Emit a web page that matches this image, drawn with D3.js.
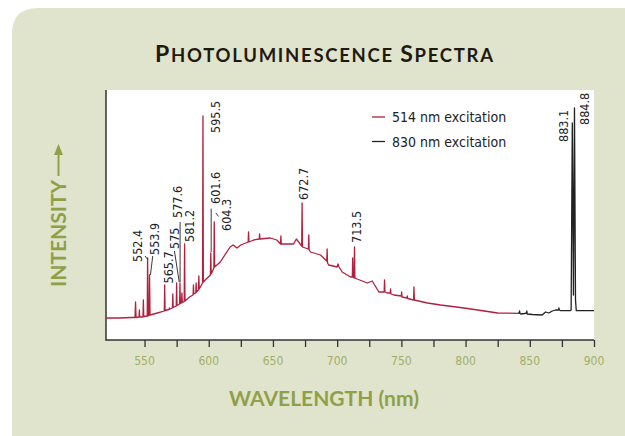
<!DOCTYPE html>
<html lang="en">
<head>
<meta charset="UTF-8">
<script src="https://d3js.org/d3.v7.min.js"></script>
<title>Photoluminescence Spectra</title>
<style>
  html, body { margin: 0; padding: 0; background: #fff; }
  svg { display: block; }
</style>
</head>
<body>
<div id="chart"></div>
<script>
// --- data (wavelength nm, relative intensity) ---
const series514 = [
  [520,22],[530,22],[540,22.5],[542.6,22.5],
  [543.0,38],[543.4,22.5],
  [545.7,23],[546.0,30],[546.3,23],
  [548.8,23],[549.1,40],[549.4,23.5],
  [552.1,24],[552.4,82],[552.8,24],
  [553.6,24.5],[553.9,65],[554.3,25],
  [560,27],
  [565.4,29],[565.7,55],[566.0,29.5],
  [569.1,30.5],[569.4,32],[569.7,31],
  [571.7,32],[572.0,46],[572.3,32.5],
  [574.7,34],[575.0,57],[575.3,34.5],
  [577.3,36],[577.6,57],[577.9,36.5],
  [578.8,37],[579.1,47],[579.4,37.5],
  [580.9,38.5],[581.2,96],[581.5,39],
  [585,43],
  [587.8,45],[588.1,55],[588.4,46],
  [589.9,47],[590.2,57],[590.5,48],
  [592.0,50],[592.3,64],[592.6,51],
  [595.2,57],[595.5,224],[595.8,58],
  [598,61],
  [601.3,65],[601.6,87],[601.9,66],
  [604.0,72],[604.3,118],[604.6,73],
  [609,78],[616.6,93],[619,95],[622,92],[625,95],
  [630.7,98],[631.0,108],[631.3,98],
  [635,100],
  [639.3,101],[639.6,106],[639.9,101],
  [648,102],[653,100],
  [655.9,96],[656.2,104],[656.5,96],
  [666,96],[668.2,101],[670.6,97],
  [672.4,94],[672.7,137],[673.0,93],
  [677.6,91],[677.9,105],[678.2,90],
  [679.2,88],[687,85],
  [691.9,79],[692.2,91],[692.5,77],
  [693.4,75],[700,73],[700.6,76],[701.5,73],[703.9,68],
  [710.4,63],
  [711.8,63],[712.1,82],[712.4,63],
  [713.2,62],[713.5,93],[713.8,62],
  [715.6,61],[723.4,57],[727.3,59],[732.5,48],
  [736.6,48],[736.9,60],[737.2,48],
  [739,47],
  [741.3,47],[741.6,51],[741.9,46],
  [744.2,45],
  [749.9,44],[750.2,48],[750.5,43],
  [754.3,42],[754.6,44],[754.9,41.5],
  [759.5,40],[759.8,53],[760.1,40],
  [770.3,37],[780.6,35],[798.8,32],[812,29.5],[824.9,27],[840.4,26.7]
];

const series830 = [
  [840.4,26.7],[841.7,27],[842,29],[842.4,26.5],[843,26],[846,26.5],
  [847.4,27],[847.7,29],[848,26],[852,25.5],[859.7,25],[862.3,28],
  [864.9,27],[867.5,29],[870.1,30],[872.4,30],[872.7,32],[873,30],
  [874,29.3],[881.3,29.3],[882.2,30],[883.1,217],[884.0,45],
  [884.8,232],[885.6,40],[886.2,29.3],[900,29.3]
];

const seriesNames = ["514 nm excitation", "830 nm excitation"];
const xTicks = [550, 575, 600, 625, 650, 675, 700, 725, 750, 775, 800, 825, 850, 875, 900];
const xTickLabels = [550, 600, 650, 700, 750, 800, 850, 900];

// peak annotations: label, text centre (nm), text start (intensity)
const peakText  = ["552.4","553.9","565.7","575","577.6","581.2","595.5","601.6","604.3","672.7","713.5","883.1","884.8"];
const peakTextX = [544.7, 558.2, 568.6, 573.3, 575.9, 585.5, 605.0, 605.0, 614.2, 674.0, 714.8, 876.7, 892.9];
const peakTextY = [78, 85, 56.5, 91, 122, 98, 207, 136, 109, 140, 97, 198, 215];
// leader lines [nm1, int1, nm2, int2]
const leaders = [
  [550.4, 84, 552.5, 80.5],
  [556.4, 84, 554.6, 65],
  [573.3, 89, 577.0, 58],
  [577.7, 118, 577.7, 58],
  [601.9, 131.5, 601.9, 88],
  [605.6, 127, 607.6, 123.5]
];

// --- layout ---
const W = 625, H = 436;
const plot = { left: 106, right: 594, top: 90, bottom: 340 };
const green = "#8fa048", tickGreen = "#a2ae68";
const red = "#b0203f", dark = "#222";

const svg = d3.select("#chart").append("svg")
  .attr("width", W).attr("height", H);

// background panel with rounded top-left corner
svg.append("path")
  .attr("d", `M12,${H} L12,34 Q12,8 38,8 L${W},8 L${W},${H} Z`)
  .attr("fill", "#e1e4cc");

svg.append("rect")
  .attr("x", plot.left).attr("y", plot.top)
  .attr("width", plot.right - plot.left).attr("height", plot.bottom - plot.top)
  .attr("fill", "#fff");

const x = d3.scaleLinear().domain([520, 900]).range([plot.left, plot.right]);
const y = d3.scaleLinear().domain([0, 250]).range([plot.bottom, plot.top]);

// title (small caps)
const title = svg.append("text")
  .attr("x", 155).attr("y", 61.5)
  .attr("textLength", 338).attr("lengthAdjust", "spacing")
  .attr("font-family", "Lato, 'Open Sans', sans-serif")
  .attr("font-weight", 700)
  .attr("fill", "#1e1a12");
[["P", 23], ["HOTOLUMINESCENCE ", 18.5], ["S", 23], ["PECTRA", 18.5]].forEach(([t, s]) => {
  title.append("tspan").attr("font-size", s).text(t);
});

// x axis
const xAxis = d3.axisBottom(x).tickValues(xTicks).tickSize(7).tickFormat("");
const gx = svg.append("g").attr("transform", `translate(0,${plot.bottom})`).call(xAxis);
gx.select(".domain").attr("stroke", "#333").attr("stroke-width", 1.5)
  .attr("d", `M${plot.left},0H${plot.right}`);
gx.selectAll(".tick line").attr("stroke", "#333").attr("stroke-width", 1.3);

svg.append("g").selectAll("text")
  .data(xTickLabels).join("text")
  .attr("x", d => x(d)).attr("y", 365)
  .attr("text-anchor", "middle")
  .attr("font-family", "'DejaVu Sans Condensed', 'DejaVu Sans', sans-serif")
  .attr("font-stretch", "condensed")
  .attr("font-size", 12)
  .attr("fill", tickGreen)
  .text(d => d);

// y axis line only
svg.append("line")
  .attr("x1", plot.left).attr("x2", plot.left)
  .attr("y1", plot.top).attr("y2", plot.bottom + 0.75)
  .attr("stroke", "#333").attr("stroke-width", 1.5);

// axis titles
svg.append("text")
  .attr("x", 324).attr("y", 406)
  .attr("text-anchor", "middle")
  .attr("font-family", "Lato, 'Open Sans', sans-serif")
  .attr("font-weight", 700).attr("font-size", 21)
  .attr("fill", green)
  .text("WAVELENGTH (nm)");

svg.append("text")
  .attr("transform", "translate(58.5,287) rotate(-90)")
  .attr("dy", "0.36em")
  .attr("font-family", "Lato, 'Open Sans', sans-serif")
  .attr("font-weight", 700).attr("font-size", 21)
  .attr("fill", green)
  .text("INTENSITY");
svg.append("line")
  .attr("x1", 58.5).attr("x2", 58.5).attr("y1", 176).attr("y2", 152)
  .attr("stroke", green).attr("stroke-width", 2);
svg.append("path")
  .attr("d", "M58.5,144 L63,155 L54,155 Z")
  .attr("fill", green);

// spectra
const line = d3.line().x(d => x(d[0])).y(d => y(d[1]));
svg.append("path").datum(series514)
  .attr("d", line).attr("fill", "none")
  .attr("stroke", red).attr("stroke-width", 1.3).attr("stroke-linejoin", "round");
svg.append("path").datum(series830)
  .attr("d", line).attr("fill", "none")
  .attr("stroke", dark).attr("stroke-width", 1.3).attr("stroke-linejoin", "round");

// leaders + peak labels
svg.append("g").selectAll("line")
  .data(leaders).join("line")
  .attr("x1", d => x(d[0])).attr("y1", d => y(d[1]))
  .attr("x2", d => x(d[2])).attr("y2", d => y(d[3]))
  .attr("stroke", "#222").attr("stroke-width", 0.9);

svg.append("g").selectAll("text")
  .data(peakText).join("text")
  .attr("transform", (d, i) => `translate(${x(peakTextX[i])},${y(peakTextY[i])}) rotate(-90)`)
  .attr("dy", "0.35em")
  .attr("font-family", "'DejaVu Sans Condensed', 'DejaVu Sans', sans-serif")
  .attr("font-stretch", "condensed")
  .attr("font-size", 12.5)
  .attr("fill", "#222")
  .text(d => d);

// legend
const legend = svg.append("g").selectAll("g")
  .data(seriesNames).join("g")
  .attr("transform", (d, i) => `translate(372,${117 + i * 24.5})`);
legend.append("line")
  .attr("x1", 0).attr("x2", 13)
  .attr("stroke", (d, i) => i === 0 ? red : dark).attr("stroke-width", 1.3);
legend.append("text")
  .attr("x", 20).attr("y", 5)
  .attr("font-family", "'DejaVu Sans Condensed', 'DejaVu Sans', sans-serif")
  .attr("font-stretch", "condensed")
  .attr("font-size", 14)
  .attr("fill", "#222")
  .text(d => d);
</script>
</body>
</html>
